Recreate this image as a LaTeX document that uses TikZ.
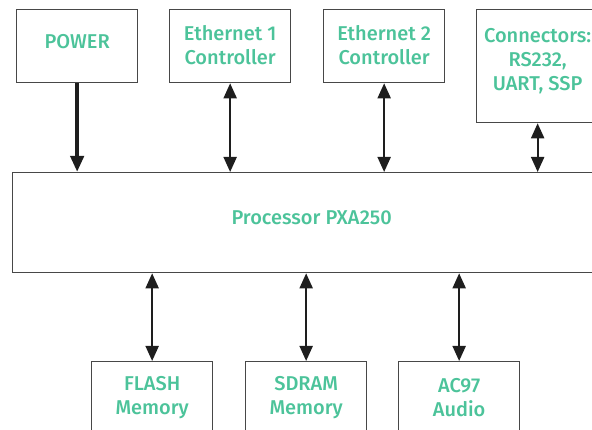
\documentclass[tikz,border=0pt]{standalone}
\usepackage{fontspec}
\setmainfont{Fira Sans}[UprightFont={* Medium}]
\usetikzlibrary{arrows.meta}
\definecolor{txtc}{HTML}{4CC39A}
\definecolor{linec}{HTML}{474747}
\definecolor{arrc}{HTML}{1E1E1E}
\begin{document}
\begin{tikzpicture}[x=1pt,y=-1pt,
  txtfont/.style={text=txtc, font=\fontsize{20}{24}\selectfont},
  lbl/.style={txtfont, align=center, inner sep=0pt, yshift=1pt},
  lblone/.style={lbl, yshift=3.5pt},
  box/.style={draw=linec, line width=1.3pt, minimum width=121pt, minimum height=73pt,
    anchor=north west, inner sep=0pt},
  biarrow/.style={draw=arrc, line width=2pt,
    {Triangle[width=13pt,length=15pt]}-{Triangle[width=13pt,length=15pt]}},
  powarrow/.style={draw=arrc, line width=4pt, -{Triangle[width=13pt,length=16pt]}},
  ]
\useasboundingbox (0,0) rectangle (592,430);
\clip (0,0) rectangle (592,430);
\node[box, label={[lblone]center:POWER}] (power) at (16,9) {};
\node[box, label={[lbl]center:Ethernet 1\\Controller}] (eth1) at (169,9) {};
\node[box, label={[lbl]center:Ethernet 2\\Controller}] (eth2) at (323,9) {};
\node[box, minimum width=122pt, minimum height=113pt] (conn) at (476,9) {};
\node[txtfont, align=center, anchor=north, inner sep=0pt] (conntext) at ([yshift=-19pt]conn.north) {Connectors:\\RS232,\\UART, SSP};
\node[box, minimum width=598pt, minimum height=100pt, label={[lblone]center:Processor PXA250}] (proc) at (12,172) {};
\node[box, label={[lbl]center:FLASH\\Memory}] (flash) at (91,361) {};
\node[box, label={[lbl]center:SDRAM\\Memory}] (sdram) at (245,361) {};
\node[box, label={[lbl]center:AC97\\Audio}] (ac97) at (398,361) {};
\draw[powarrow] (power.south) -- (power.south |- proc.north);
\draw[biarrow] (eth1.south) -- (eth1.south |- proc.north);
\draw[biarrow] (eth2.south) -- (eth2.south |- proc.north);
\draw[biarrow] (conn.south) -- (conn.south |- proc.north);
\draw[biarrow] (flash.north |- proc.south) -- (flash.north);
\draw[biarrow] (sdram.north |- proc.south) -- (sdram.north);
\draw[biarrow] (ac97.north |- proc.south) -- (ac97.north);
\end{tikzpicture}
\end{document}
